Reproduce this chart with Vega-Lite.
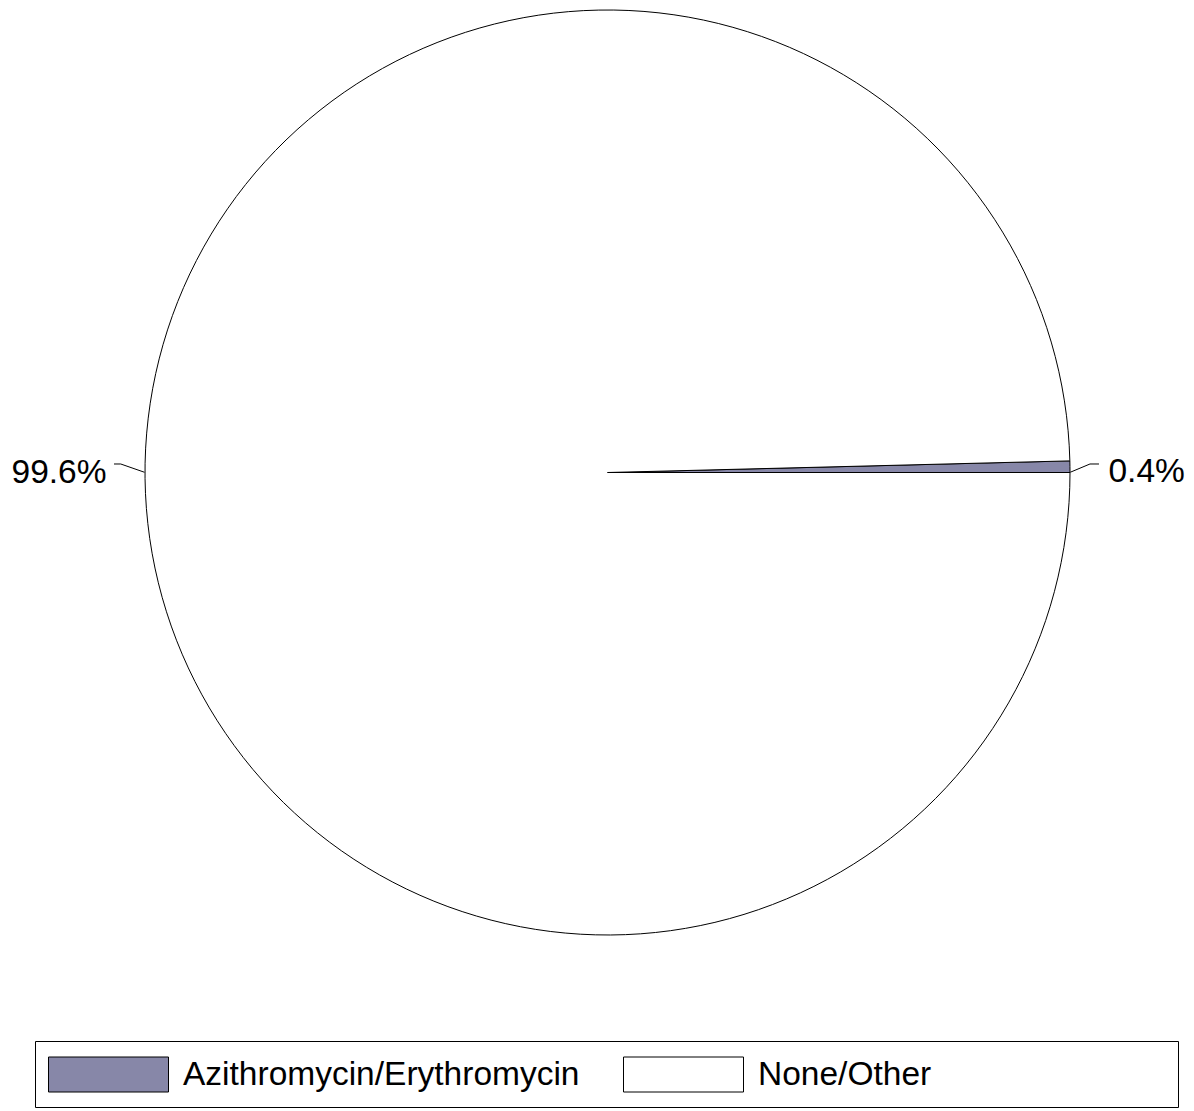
{
  "$schema": "https://vega.github.io/schema/vega-lite/v6.json",
  "autosize": {"type": "none"},
  "width": 1173,
  "height": 945,
  "padding": {"left": 21, "top": 0, "right": 0, "bottom": 166},
  "background": "white",
  "config": {"view": {"stroke": null}, "font": "Liberation Sans"},
  "data": {
    "values": [
      {"category": "Azithromycin/Erythromycin", "value": 0.4, "label": "0.4%"},
      {"category": "None/Other", "value": 99.6, "label": "99.6%"}
    ]
  },
  "layer": [
    {
      "mark": {"type": "arc", "radius": 462.5, "stroke": "black", "strokeWidth": 1},
      "encoding": {
        "theta": {"field": "value", "type": "quantitative", "stack": true, "scale": {"range": [1.5707963, 7.8539816]}},
        "color": {
          "field": "category",
          "type": "nominal",
          "scale": {"domain": ["Azithromycin/Erythromycin", "None/Other"], "range": ["#8787A8", "#FFFFFF"]},
          "legend": {
            "orient": "none",
            "legendX": 14,
            "legendY": 1041,
            "direction": "horizontal",
            "columns": 2,
            "title": null,
            "symbolType": "M-1,-0.875H5V0.875H-1Z",
            "symbolSize": 1600,
            "symbolStrokeColor": "black",
            "symbolStrokeWidth": 1,
            "symbolOpacity": 1,
            "labelFontSize": 33.5,
            "labelFont": "Liberation Sans",
            "labelColor": "black",
            "labelOffset": 94,
            "labelLimit": 2000,
            "columnPadding": 31,
            "padding": 13,
            "strokeColor": "black",
            "fillColor": "white",
            "encode": {
              "entries": {"update": {"width": {"value": 542}, "noBound": {"value": false}}}
            }
          }
        },
        "order": {"field": "value", "sort": "descending"}
      }
    },
    {
      "mark": {
        "type": "text",
        "radius": 501,
        "fontSize": 33.5,
        "font": "Liberation Sans",
        "color": "black",
        "baseline": "middle",
        "align": {"expr": "datum.category == 'None/Other' ? 'right' : 'left'"},
        "dy": {"expr": "datum.category == 'None/Other' ? -6 : 6"}
      },
      "encoding": {
        "theta": {"field": "value", "type": "quantitative", "stack": true},
        "detail": {"field": "category", "type": "nominal"},
        "text": {"field": "label", "type": "nominal"},
        "order": {"field": "value", "sort": "descending"}
      }
    },
    {
      "data": {
        "values": [
          {"label": "99.6%", "px": -1.067, "py": 0.0184},
          {"label": "99.6%", "px": -1.0525, "py": 0.0184},
          {"label": "99.6%", "px": -1.0011, "py": 0.0005},
          {"label": "0.4%", "px": 1.0005, "py": 0.0005},
          {"label": "0.4%", "px": 1.0432, "py": 0.0184},
          {"label": "0.4%", "px": 1.0627, "py": 0.0184}
        ]
      },
      "mark": {"type": "line", "color": "black", "strokeWidth": 1},
      "encoding": {
        "x": {"field": "px", "type": "quantitative", "scale": {"domain": [-1.26811, 1.26811], "nice": false, "zero": false}, "axis": null},
        "y": {"field": "py", "type": "quantitative", "scale": {"domain": [-1.02162, 1.02162], "nice": false, "zero": false}, "axis": null},
        "detail": {"field": "label", "type": "nominal"}
      }
    }
  ]
}
